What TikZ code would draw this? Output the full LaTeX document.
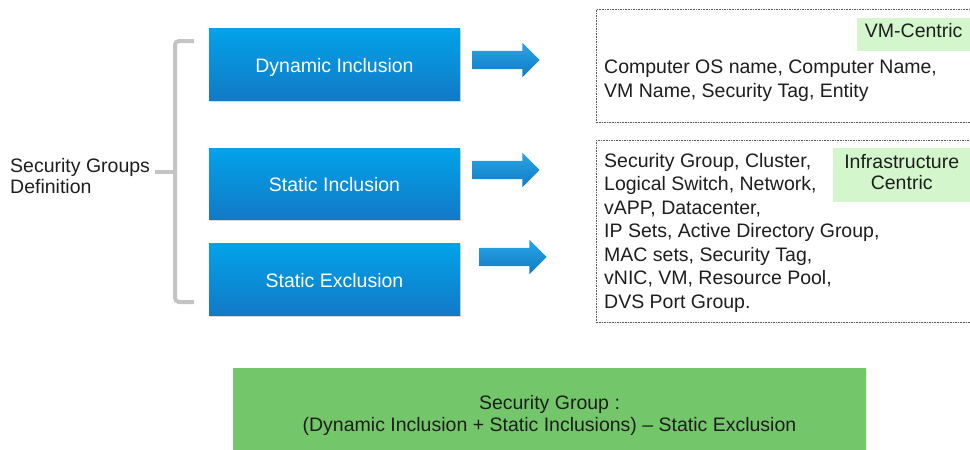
\documentclass[tikz,border=0pt]{standalone}
\usepackage{fontspec}
\setmainfont{Liberation Sans}
\usetikzlibrary{shapes.arrows,shadows}
\definecolor{blueTop}{RGB}{2,163,234}
\definecolor{blueBot}{RGB}{18,121,198}
\definecolor{arrTop}{RGB}{40,166,230}
\definecolor{arrBot}{RGB}{18,122,196}
\definecolor{bracketgray}{RGB}{196,196,196}
\definecolor{dashgray}{RGB}{90,90,90}
\definecolor{palegreen}{RGB}{212,246,204}
\definecolor{resgreen}{RGB}{115,199,106}
\definecolor{txt}{RGB}{30,30,30}
\tikzset{
  bluebox/.style={rectangle, inner sep=0, minimum width=251, top color=blueTop, bottom color=blueBot,
     text=white, font=\fontsize{19.5}{23.5}\selectfont, text height=18pt, text depth=2pt,
     drop shadow={opacity=0.3, shadow xshift=1pt, shadow yshift=-1.5pt}},
  blockarrow/.style={single arrow, inner sep=0, minimum height=67, text height=9pt, text depth=9pt,
     text width=0pt, single arrow head extend=8, shape border rotate=0,
     top color=arrTop, bottom color=arrBot, draw=none},
  dbox/.style={rectangle, draw=dashgray, dash pattern=on 1.6pt off 1pt, line width=0.8pt,
     inner sep=0, anchor=north west, fill=white,
     drop shadow={opacity=0.15, shadow xshift=1pt, shadow yshift=-1pt}},
  plabel/.style={rectangle, fill=palegreen, inner sep=0, text=txt, align=center,
     font=\fontsize{19.5}{21.5}\selectfont},
  bodytext/.style={anchor=north west, inner sep=0, align=left, text=txt,
     font=\fontsize{19.5}{23.5}\selectfont},
}
\begin{document}
\begin{tikzpicture}[x=1pt,y=-1pt]
\useasboundingbox (0,0) rectangle (970,450);
% bracket
\draw[bracketgray, line width=4pt, rounded corners=4pt] (194,41) -- (175,41) -- (175,302) -- (194,302);
\draw[bracketgray, line width=4pt, rounded corners=3pt] (155,172) -- (175,172);
\node[anchor=north west, inner sep=0, align=left, text=txt, font=\fontsize{19.5}{21}\selectfont]
  (sgdef) at (10,158) {Security Groups\\Definition};
% blue boxes
\node[bluebox, minimum height=72] (dyn) at (334.5,64) {Dynamic Inclusion};
\node[bluebox, minimum height=71] (sin) at (334.5,183.5) {Static Inclusion};
\node[bluebox, minimum height=72] (sex) at (334.5,279) {Static Exclusion};
% arrows
\node[blockarrow] (arr1) at (501.5,60) {};
\node[blockarrow] (arr2) at (501.5,170) {};
\node[blockarrow] (arr3) at (508.5,257) {};
% dashed boxes
\node[dbox, minimum width=380, minimum height=113] (vmbox) at (596,9) {};
\node[dbox, minimum width=380, minimum height=182] (infbox) at (596,140) {};
\node[plabel, anchor=north west, minimum width=113, minimum height=33, text depth=9pt] (vmlab) at (857,18) {VM-Centric};
\node[plabel, anchor=north west, minimum width=137, minimum height=54, text depth=7pt] (inflab) at (833,148) {Infrastructure\\Centric};
\node[bodytext] (vmtext) at (604,60) {Computer OS name, Computer Name,\\VM Name, Security Tag, Entity};
\node[bodytext] (inftext) at (604,153) {Security Group, Cluster,\\Logical Switch, Network,\\vAPP, Datacenter,\\IP Sets, Active Directory Group,\\MAC sets, Security Tag,\\vNIC, VM, Resource Pool,\\DVS Port Group.};
% result box
\node[rectangle, fill=resgreen, inner sep=0, minimum width=633, minimum height=94, align=center,
  text=txt, font=\fontsize{19.5}{22}\selectfont,
  drop shadow={opacity=0.15, shadow xshift=1pt, shadow yshift=-1pt}]
  (result) at (549.5,415) {Security Group :\\(Dynamic Inclusion + Static Inclusions) – Static Exclusion};
\end{tikzpicture}
\end{document}
